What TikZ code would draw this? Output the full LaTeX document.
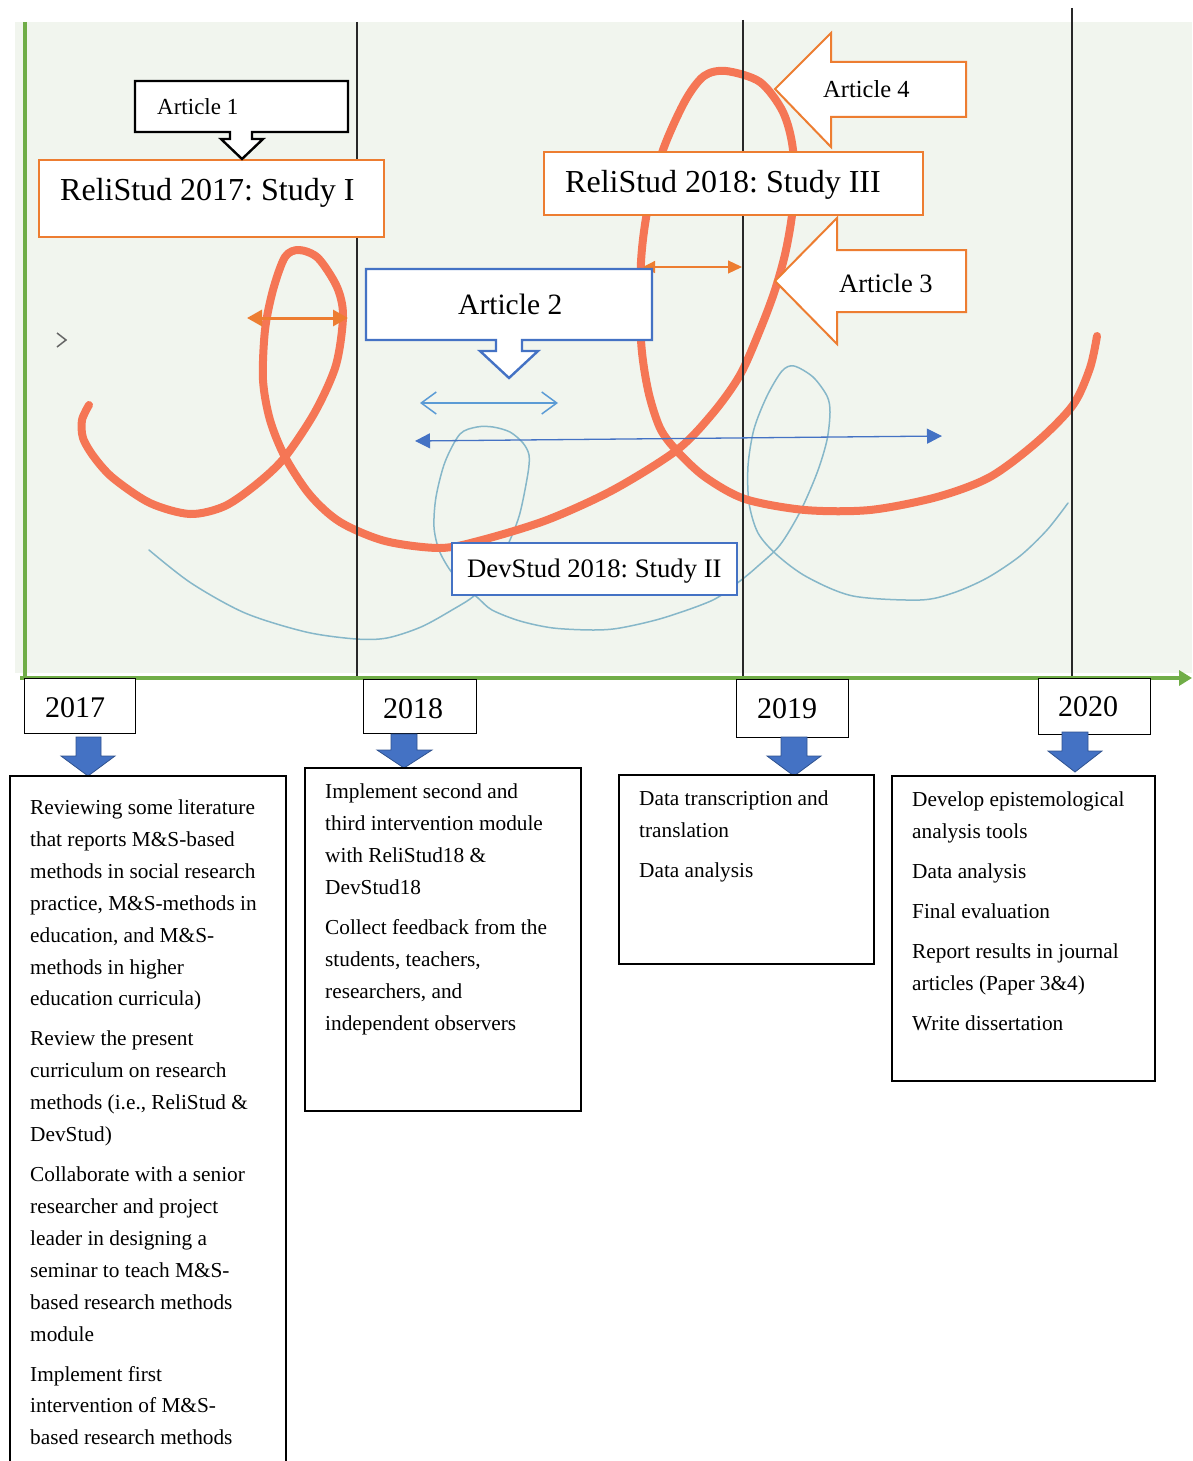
\documentclass[tikz,border=0pt]{standalone}
\usepackage{fontspec}
\setmainfont{Liberation Serif}
\usetikzlibrary{arrows.meta}
\definecolor{panel}{RGB}{241,245,238}
\definecolor{axisgreen}{HTML}{70AD47}
\definecolor{accent}{HTML}{ED7D31}
\definecolor{ink}{RGB}{245,118,85}
\definecolor{inkblue}{RGB}{134,183,201}
\definecolor{bblue}{HTML}{4472C4}
\definecolor{lblue}{HTML}{5B9BD5}
\definecolor{dblue}{HTML}{2F528F}
\definecolor{rule}{RGB}{40,40,40}
\frenchspacing

\begin{document}
\begin{tikzpicture}[x=1pt,y=-1pt,
  lbl/.style={anchor=base west, inner sep=0pt},
  body/.style={lbl, font=\fontsize{21.3}{26}\selectfont},
  frame/.style={draw=black, line width=2.4pt, fill=white, anchor=north west, inner sep=0pt},
  yearbox/.style={draw=black, line width=1.1pt, fill=white, anchor=north west, inner sep=0pt},
  studyO/.style={draw=accent, line width=2pt, fill=white, anchor=north west, inner sep=0pt},
  studyB/.style={draw=bblue, line width=2.4pt, fill=white, anchor=north west, inner sep=0pt},
  downarrow/.style={fill=bblue, draw=dblue, line width=0.8pt, line join=miter},
  inkline/.style={ink, line width=8pt, line cap=round, line join=round},
  thinink/.style={inkblue, line width=1.5pt, line cap=round, line join=round},
  yearrule/.style={rule, line width=1.1pt}
]
\useasboundingbox (0,0) rectangle (1192,1461);

% panel behind the timeline
\fill[panel] (15,22) rectangle (1192,673);

% handwritten strokes
\draw[thinink] plot[smooth, tension=0.5] coordinates {
  (149,550) (191,583) (245,613) (306,632) (356,639) (387,638) (421,627)
  (452,610) (475,595) (495,570) (510,540) (520,513) (528,473) (529,455)
  (523,443) (510,432) (493,427) (477,427) (460,434) (445,462) (436,497)
  (434,527) (439,550) (450,570) (465,587) (478,598) (492,610) (520,621)
  (553,628) (593,630) (620,628) (663,618) (713,600) (740,581) (758,566)
  (780,545) (800,512) (817,473) (827,440) (830,412) (827,396) (813,377)
  (794,366) (782,371) (767,396) (754,429) (748,466) (749,503) (758,533)
  (777,555) (807,577) (853,596) (920,600) (953,593) (987,578) (1020,556)
  (1047,530) (1068,503)};

\draw[inkline] plot[smooth, tension=0.5] coordinates {
  (89,405) (82,420) (83,438) (94,457) (113,478) (150,503) (190,514)
  (225,506) (258,483) (285,457) (315,412) (336,365) (343,316) (337,287)
  (318,258) (299,250) (285,257) (273,290) (265,330) (263,380) (270,420)
  (285,457) (310,495) (340,522) (385,541) (440,548) (482,540) (547,520)
  (613,490) (677,450) (713,413) (740,375) (760,330) (775,290) (786,250)
  (793,205) (793,150) (783,112) (760,82) (726,71) (704,76) (685,101)
  (663,150) (648,207) (641,262) (641,340) (648,390) (660,428) (677,451)
  (705,477) (745,499) (805,510) (870,510) (937,497) (990,477) (1037,442)
  (1073,405) (1090,368) (1097,336)};

% year rules
\coordinate (r1t) at (357,22);   \coordinate (r1b) at (357,678);
\coordinate (r2t) at (743,20);   \coordinate (r2b) at (743,678);
\coordinate (r3t) at (1072,8);   \coordinate (r3b) at (1072,678);
\draw[yearrule] (r1t) -- (r1b);
\draw[yearrule] (r2t) -- (r2b);
\draw[yearrule] (r3t) -- (r3b);

% axes
\coordinate (ax0) at (20,678);  \coordinate (ax1) at (1192,678);
\coordinate (ay0) at (25,22);   \coordinate (ay1) at (25,679);
\draw[axisgreen, line width=3.5pt] (ay0) -- (ay1);
\draw[axisgreen, line width=3.5pt, -{Triangle[length=13pt,width=15pt]}] (ax0) -- (ax1);

% small chevron mark
\draw[gray!80!black, line width=1.5pt, line join=miter] (57,333) -- (66,340) -- (57,347);

% span arrows
\coordinate (o1a) at (247,318); \coordinate (o1b) at (348,318);
\draw[accent, line width=3pt, {Triangle[length=15pt,width=16pt]}-{Triangle[length=15pt,width=16pt]}] (o1a) -- (o1b);
\coordinate (o2a) at (643,267); \coordinate (o2b) at (742,267);
\draw[accent, line width=1.2pt, {Triangle[length=12pt,width=12pt]}-{Triangle[length=14pt,width=13pt]}] (o2a) -- (o2b);
\coordinate (b1a) at (420,403); \coordinate (b1b) at (558,403);
\draw[lblue, line width=1.5pt, {Straight Barb[length=15pt,width=22pt]}-{Straight Barb[length=15pt,width=22pt]}] (b1a) -- (b1b);
\coordinate (b2a) at (415,441); \coordinate (b2b) at (942,436);
\draw[bblue, line width=1.3pt, {Triangle[length=15pt,width=15pt]}-{Triangle[length=15pt,width=15pt]}] (b2a) -- (b2b);

% study boxes
\node[studyO, minimum width=345pt, minimum height=77pt] (s1) at (38,159) {};
\node[lbl, font=\fontsize{32}{32}\selectfont] (s1t) at (60,200) {ReliStud 2017: Study I};
\node[studyO, minimum width=379pt, minimum height=63pt] (s3) at (543,151) {};
\node[lbl, font=\fontsize{32}{32}\selectfont] (s3t) at (565,192) {ReliStud 2018: Study III};
\node[studyB, minimum width=285pt, minimum height=52pt] (s2) at (451,542) {};
\node[lbl, font=\fontsize{26.7}{27}\selectfont] (s2t) at (467,577) {DevStud 2018: Study II};

% article callouts
\draw[black, line width=2.4pt, fill=white, line join=miter]
  (135,81) -- (348,81) -- (348,132) -- (252,132) -- (252,139) -- (263,139)
  -- (242,159) -- (221,139) -- (230,139) -- (230,132) -- (135,132) -- cycle;
\node[lbl, font=\fontsize{23}{23}\selectfont] (a1) at (157,115) {Article 1};

\draw[bblue, line width=2.4pt, fill=white, line join=miter]
  (366,269) -- (652,269) -- (652,340) -- (522,340) -- (522,351) -- (538,351)
  -- (509,378) -- (480,351) -- (496,351) -- (496,340) -- (366,340) -- cycle;
\node[lbl, font=\fontsize{29.5}{30}\selectfont] (a2) at (458,314) {Article 2};

\draw[accent, line width=2pt, fill=white, line join=miter]
  (775,89) -- (831,33) -- (831,62) -- (966,62) -- (966,117) -- (831,117)
  -- (831,147) -- cycle;
\node[lbl, font=\fontsize{24.5}{25}\selectfont] (a4) at (823,98) {Article 4};

\draw[accent, line width=2pt, fill=white, line join=miter]
  (775,281) -- (837,218) -- (837,250) -- (966,250) -- (966,312) -- (837,312)
  -- (837,344) -- cycle;
\node[lbl, font=\fontsize{26.5}{27}\selectfont] (a3) at (839,292) {Article 3};

% year labels
\node[yearbox, minimum width=111pt, minimum height=55pt] (y1) at (24,678) {};
\node[lbl, font=\fontsize{30}{30}\selectfont] (y1t) at (45,717) {2017};
\node[yearbox, minimum width=113pt, minimum height=54pt] (y2) at (363,679) {};
\node[lbl, font=\fontsize{30}{30}\selectfont] (y2t) at (383,718) {2018};
\node[yearbox, minimum width=112pt, minimum height=58pt] (y3) at (736,679) {};
\node[lbl, font=\fontsize{30}{30}\selectfont] (y3t) at (757,718) {2019};
\node[yearbox, minimum width=112pt, minimum height=56pt] (y4) at (1038,678) {};
\node[lbl, font=\fontsize{30}{30}\selectfont] (y4t) at (1058,716) {2020};

% block arrows under the years
\draw[downarrow] (76,737) -- (101,737) -- (101,756) -- (115,756) -- (88,776)
  -- (61,756) -- (76,756) -- cycle;
\draw[downarrow] (391,734) -- (417,734) -- (417,750) -- (432,750) -- (404,768)
  -- (377,750) -- (391,750) -- cycle;
\draw[downarrow] (781,737) -- (807,737) -- (807,756) -- (821,756) -- (794,776)
  -- (767,756) -- (781,756) -- cycle;
\draw[downarrow] (1062,732) -- (1088,732) -- (1088,751) -- (1102,751) -- (1075,772)
  -- (1048,751) -- (1062,751) -- cycle;

% activity boxes
\node[frame, minimum width=276pt, minimum height=720pt] (t1) at (9,775) {};
\node[frame, minimum width=276pt, minimum height=343pt] (t2) at (304,767) {};
\node[frame, minimum width=255pt, minimum height=189pt] (t3) at (618,774) {};
\node[frame, minimum width=263pt, minimum height=305pt] (t4) at (891,775) {};

\foreach \myY/\myT [count=\i] in {
  807/{Reviewing some literature},
  839/{that reports M\&S-based},
  871/{methods in social research},
  903/{practice, M\&S-methods in},
  935/{education, and M\&S-},
  967/{methods in higher},
  998/{education curricula)},
  1038/{Review the present},
  1070/{curriculum on research},
  1102/{methods (i.e., ReliStud \&},
  1134/{DevStud)},
  1174/{Collaborate with a senior},
  1206/{researcher and project},
  1238/{leader in designing a},
  1270/{seminar to teach M\&S-},
  1302/{based research methods},
  1334/{module},
  1374/{Implement first},
  1405/{intervention of M\&S-},
  1437/{based research methods}}
  {\node[body] (p\i) at (30,\myY+7) {\myT};}

\foreach \myY/\myT [count=\i] in {
  791/{Implement second and},
  823/{third intervention module},
  855/{with ReliStud18 \&},
  887/{DevStud18},
  927/{Collect feedback from the},
  959/{students, teachers,},
  991/{researchers, and},
  1023/{independent observers}}
  {\node[body] (q\i) at (325,\myY+7) {\myT};}

\foreach \myY/\myT [count=\i] in {
  798/{Data transcription and},
  830/{translation},
  870/{Data analysis}}
  {\node[body] (r\i) at (639,\myY+7) {\myT};}

\foreach \myY/\myT [count=\i] in {
  799/{Develop epistemological},
  831/{analysis tools},
  871/{Data analysis},
  911/{Final evaluation},
  951/{Report results in journal},
  983/{articles (Paper 3\&4)},
  1023/{Write dissertation}}
  {\node[body] (w\i) at (912,\myY+7) {\myT};}

\end{tikzpicture}
\end{document}
